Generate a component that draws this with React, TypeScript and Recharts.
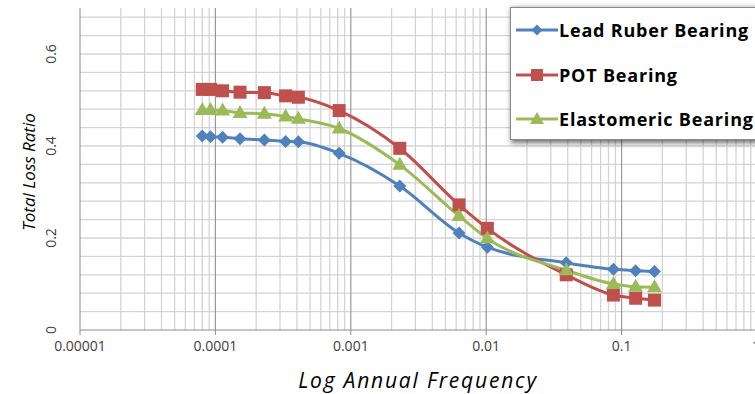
import {
  LineChart,
  Line,
  XAxis,
  YAxis,
  ReferenceLine,
  Label,
} from 'recharts'

const frequency = [0.00008, 0.000092, 0.000113, 0.000152, 0.00023, 0.00033, 0.00041, 0.00082, 0.0023, 0.0063, 0.0102, 0.039, 0.087, 0.127, 0.175]
const leadRubber = [0.422, 0.42, 0.419, 0.416, 0.413, 0.41, 0.409, 0.384, 0.313, 0.211, 0.18, 0.146, 0.132, 0.129, 0.127]
const potBearing = [0.523, 0.523, 0.52, 0.517, 0.516, 0.509, 0.506, 0.477, 0.395, 0.272, 0.221, 0.12, 0.076, 0.069, 0.065]
const elastomeric = [0.478, 0.478, 0.477, 0.472, 0.47, 0.464, 0.459, 0.438, 0.359, 0.248, 0.199, 0.13, 0.1, 0.094, 0.093]

const xTicks = [0.00001, 0.0001, 0.001, 0.01, 0.1, 1]
const xTickLabels = ['0.00001', '0.0001', '0.001', '0.01', '0.1', '1']
const yTicks = [0, 0.2, 0.4, 0.6]

const BLUE = '#4f81bd'
const RED = '#c0504d'
const GREEN = '#9bbb59'
const FONT = '"Open Sans", "Liberation Sans", sans-serif'

const data = frequency.map((x, i) => ({
  x,
  lead: leadRubber[i],
  pot: potBearing[i],
  elast: elastomeric[i],
}))

// log grid: major at decades, minor at 2..9
const minorX: number[] = []
xTicks.slice(0, -1).forEach((d) => {
  for (let k = 2; k <= 9; k++) minorX.push(k * d)
})
const gridY: number[] = []
for (let i = 1; i <= 17; i++) gridY.push(Number((i * 0.04).toFixed(2)))

const diamond = (cx: number, cy: number, r = 6.5) =>
  `M${cx},${cy - r} L${cx + r},${cy} L${cx},${cy + r} L${cx - r},${cy} Z`

function DiamondDot(props: any) {
  const { cx, cy, index } = props
  return <path key={`d-${index}`} d={diamond(cx, cy)} fill={BLUE} />
}

function SquareDot(props: any) {
  const { cx, cy, index } = props
  return <rect key={`s-${index}`} x={cx - 6.5} y={cy - 6.5} width={13} height={13} fill={RED} />
}

const tri = (cx: number, cy: number) => `${cx},${cy - 8} ${cx + 7.5},${cy + 5} ${cx - 7.5},${cy + 5}`

function TriangleDot(props: any) {
  const { cx, cy, index } = props
  return <polygon key={`t-${index}`} points={tri(cx, cy)} fill={GREEN} />
}

function YTick(props: any) {
  const { y, payload } = props
  return (
    <text
      x={50}
      y={y}
      transform={`rotate(-90 50 ${y})`}
      textAnchor="middle"
      dominantBaseline="central"
      fontSize={14}
      fill="#404040"
      fontFamily={FONT}
    >
      {payload.value === 0 ? '0' : payload.value.toFixed(1)}
    </text>
  )
}

function XTick(props: any) {
  const { x, y, payload } = props
  const i = xTicks.indexOf(payload.value)
  return (
    <text x={x} y={y + 14} textAnchor="middle" fontSize={14} fill="#404040" fontFamily={FONT}>
      {xTickLabels[i]}
    </text>
  )
}

const legendItems = [
  { name: 'Lead Ruber Bearing', color: BLUE, shape: 'diamond' },
  { name: 'POT Bearing', color: RED, shape: 'square' },
  { name: 'Elastomeric Bearing', color: GREEN, shape: 'triangle' },
]

function LegendBox() {
  return (
    <div
      style={{
        position: 'absolute',
        left: 510,
        top: 7,
        width: 250,
        height: 133,
        background: '#fff',
        border: '1px solid #8a8a8a',
        boxShadow: '2px 2px 5px 1px rgba(0,0,0,0.55)',
        boxSizing: 'border-box',
      }}
    >
      {legendItems.map((item, i) => (
        <div
          key={item.name}
          style={{ position: 'absolute', left: 4, top: 10 + i * 44.5, height: 24, display: 'flex', alignItems: 'center' }}
        >
          <svg width={44} height={24}>
            <line x1={1} y1={12} x2={43} y2={12} stroke={item.color} strokeWidth={3} />
            {item.shape === 'diamond' && <path d={diamond(22, 12, 5.5)} fill={item.color} />}
            {item.shape === 'square' && <rect x={16} y={6} width={12} height={12} fill={item.color} />}
            {item.shape === 'triangle' && <polygon points="22,5 29,17 15,17" fill={item.color} />}
          </svg>
          <span
            style={{
              fontFamily: FONT,
              fontWeight: 700,
              fontSize: 18,
              letterSpacing: 0.8,
              color: '#000',
              whiteSpace: 'nowrap',
              marginLeft: 0,
            }}
          >
            {item.name}
          </span>
        </div>
      ))}
    </div>
  )
}

export default function App() {
  return (
    <div style={{ position: 'absolute', left: 0, top: 0, width: 755, height: 394, overflow: 'hidden', background: '#fff' }}>
      <LineChart width={760} height={394} data={data} margin={{ top: 8, right: 3, left: 0, bottom: 0 }}>
        <XAxis
          dataKey="x"
          type="number"
          scale="log"
          domain={[0.00001, 1]}
          ticks={xTicks}
          allowDataOverflow
          tick={<XTick />}
          tickLine={{ stroke: '#8c8c8c' }}
          tickSize={5}
          axisLine={{ stroke: '#8c8c8c' }}
          height={64}
        >
          <Label
            content={() => (
              <text x={418} y={388} textAnchor="middle" fontSize={21} fontStyle="italic" fill="#000" fontFamily={FONT} letterSpacing={1.8}>
                Log Annual Frequency
              </text>
            )}
          />
        </XAxis>
        <YAxis
          type="number"
          domain={[0, 0.7]}
          ticks={yTicks}
          width={80}
          tick={<YTick />}
          tickLine={false}
          axisLine={{ stroke: '#8c8c8c' }}
        >
          <Label
            content={() => (
              <text
                x={28}
                y={172}
                transform="rotate(-90 28 172)"
                textAnchor="middle"
                dominantBaseline="central"
                fontSize={17}
                fontStyle="italic"
                fill="#000"
                fontFamily={FONT}
              >
                Total Loss Ratio
              </text>
            )}
          />
        </YAxis>
        {gridY.map((v) => (
          <ReferenceLine key={`gy-${v}`} y={v} stroke="#d4d4d4" strokeWidth={1.3} />
        ))}
        {minorX.map((v) => (
          <ReferenceLine key={`gx-${v}`} x={v} stroke="#d4d4d4" strokeWidth={1.3} />
        ))}
        {xTicks.slice(1).map((v) => (
          <ReferenceLine key={`mx-${v}`} x={v} stroke="#9a9a9a" strokeWidth={1.2} />
        ))}
        <Line
          type="monotone"
          dataKey="lead"
          name="Lead Ruber Bearing"
          stroke={BLUE}
          strokeWidth={3}
          dot={DiamondDot}
          isAnimationActive={false}
        />
        <Line
          type="monotone"
          dataKey="pot"
          name="POT Bearing"
          stroke={RED}
          strokeWidth={3}
          dot={SquareDot}
          isAnimationActive={false}
        />
        <Line
          type="monotone"
          dataKey="elast"
          name="Elastomeric Bearing"
          stroke={GREEN}
          strokeWidth={3}
          dot={TriangleDot}
          isAnimationActive={false}
        />
      </LineChart>
      <LegendBox />
    </div>
  )
}
